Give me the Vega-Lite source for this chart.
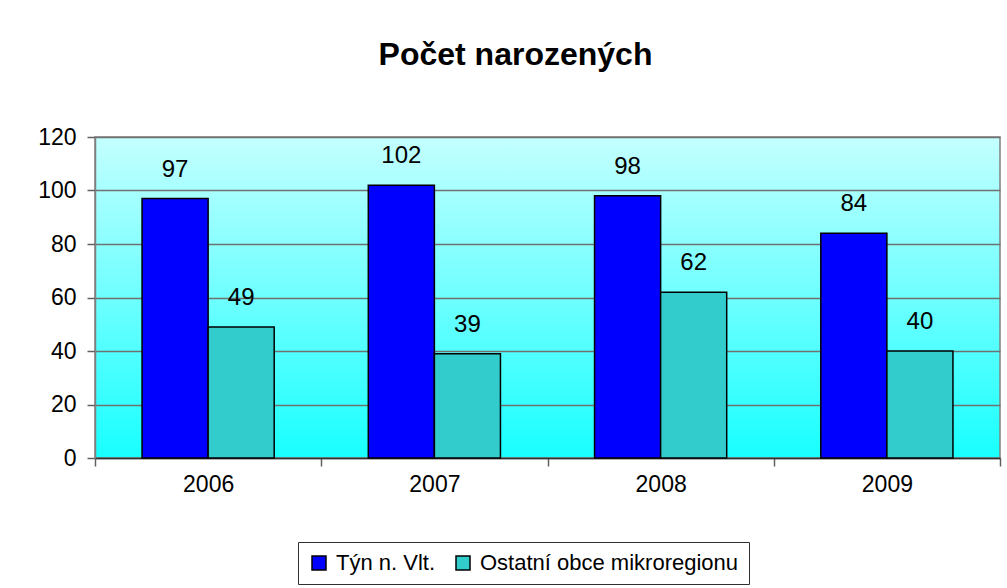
{
  "$schema": "https://vega.github.io/schema/vega-lite/v6.json",
  "autosize": {"type": "none"},
  "width": 905,
  "height": 321,
  "padding": {"left": 95, "top": 137, "right": 7, "bottom": 130},
  "background": "white",
  "title": {
    "text": "Počet narozených",
    "font": "Liberation Sans",
    "fontSize": 32,
    "fontWeight": "bold",
    "color": "black",
    "anchor": "middle",
    "dx": -32,
    "offset": 54
  },
  "config": {
    "font": "Liberation Sans",
    "view": {
      "stroke": "#808080",
      "strokeWidth": 1.5,
      "fill": {
        "gradient": "linear",
        "x1": 0, "y1": 0, "x2": 0, "y2": 1,
        "stops": [
          {"offset": 0, "color": "#C4FFFF"},
          {"offset": 1, "color": "#18FFFF"}
        ]
      }
    }
  },
  "data": {
    "values": [
      {"rok": "2006", "serie": "Týn n. Vlt.", "pocet": 97},
      {"rok": "2006", "serie": "Ostatní obce mikroregionu", "pocet": 49},
      {"rok": "2007", "serie": "Týn n. Vlt.", "pocet": 102},
      {"rok": "2007", "serie": "Ostatní obce mikroregionu", "pocet": 39},
      {"rok": "2008", "serie": "Týn n. Vlt.", "pocet": 98},
      {"rok": "2008", "serie": "Ostatní obce mikroregionu", "pocet": 62},
      {"rok": "2009", "serie": "Týn n. Vlt.", "pocet": 84},
      {"rok": "2009", "serie": "Ostatní obce mikroregionu", "pocet": 40}
    ]
  },
  "encoding": {
    "x": {
      "field": "rok",
      "type": "nominal",
      "title": null,
      "scale": {"paddingInner": 0, "paddingOuter": 0},
      "axis": {
        "labelAngle": 0,
        "labelFontSize": 23,
        "labelColor": "black",
        "labelPadding": 7,
        "tickBand": "extent",
        "tickSize": 8,
        "tickColor": "#606060",
        "tickWidth": 1.5,
        "domainColor": "#303030",
        "domainWidth": 1.5,
        "grid": false
      }
    },
    "xOffset": {
      "field": "serie",
      "type": "nominal",
      "sort": ["Týn n. Vlt.", "Ostatní obce mikroregionu"],
      "scale": {"paddingInner": 0, "paddingOuter": 0.712}
    },
    "y": {
      "field": "pocet",
      "type": "quantitative",
      "title": null,
      "scale": {"domain": [0, 120], "nice": false},
      "axis": {
        "values": [0, 20, 40, 60, 80, 100, 120],
        "labelFontSize": 23,
        "labelColor": "black",
        "labelPadding": 11,
        "tickSize": 8,
        "tickColor": "#606060",
        "tickWidth": 1.5,
        "domainColor": "#808080",
        "domainWidth": 1.5,
        "gridColor": "#707070",
        "gridWidth": 1.5
      }
    }
  },
  "layer": [
    {
      "mark": {"type": "bar", "stroke": "black", "strokeWidth": 1.5},
      "encoding": {
        "color": {
          "field": "serie",
          "type": "nominal",
          "sort": ["Týn n. Vlt.", "Ostatní obce mikroregionu"],
          "scale": {
            "domain": ["Týn n. Vlt.", "Ostatní obce mikroregionu"],
            "range": ["#0000FF", "#33CCCC"]
          },
          "legend": {
            "title": null,
            "orient": "none",
            "legendX": 203,
            "legendY": 405,
            "direction": "horizontal",
            "strokeColor": "#303030",
            "fillColor": "white",
            "padding": 10,
            "symbolType": "square",
            "symbolSize": 196,
            "symbolStrokeColor": "black",
            "symbolStrokeWidth": 1.5,
            "symbolOpacity": 1,
            "labelFontSize": 22,
            "labelColor": "black",
            "labelOffset": 6,
            "labelLimit": 500,
            "columnPadding": 16
          }
        }
      }
    },
    {
      "mark": {
        "type": "text",
        "fontSize": 24,
        "color": "black",
        "baseline": "alphabetic",
        "dy": -22
      },
      "encoding": {
        "text": {"field": "pocet", "type": "quantitative"}
      }
    }
  ]
}
